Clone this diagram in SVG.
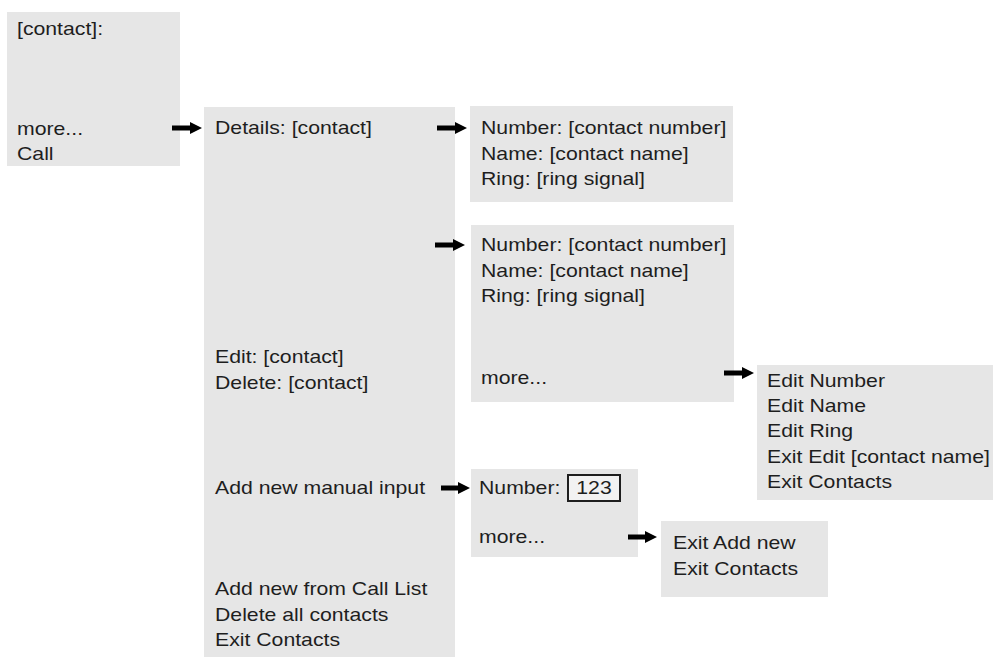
<svg xmlns="http://www.w3.org/2000/svg" width="993" height="657" viewBox="0 0 993 657">
<defs>
<style>
.box{fill:#e6e6e6;}
.t{font-family:"Liberation Sans",Arial,sans-serif;font-size:18px;fill:#1e1e1e;}
.c{stroke:#000;stroke-width:5;fill:none;marker-end:url(#ah);}
</style>
<marker id="ah" markerUnits="userSpaceOnUse" markerWidth="12" markerHeight="14" refX="2" refY="7" orient="auto">
<path d="M0,1 L12,7 L0,13 Z" fill="#000"/>
</marker>
</defs>
<rect width="993" height="657" fill="#fff"/>
<g id="n-contact">
<rect class="box" x="7" y="12" width="173" height="154"/>
<text class="t" transform="translate(17 35) scale(1.18 1)">[contact]:</text>
<text class="t" transform="translate(17 135) scale(1.18 1)">more...</text>
<text class="t" transform="translate(17 160) scale(1.18 1)">Call</text>
</g>
<g id="n-menu">
<rect class="box" x="204" y="107" width="251" height="550"/>
<text class="t" transform="translate(215 134) scale(1.18 1)">Details: [contact]</text>
<text class="t" transform="translate(215 363) scale(1.18 1)">Edit: [contact]</text>
<text class="t" transform="translate(215 389) scale(1.18 1)">Delete: [contact]</text>
<text class="t" transform="translate(215 494) scale(1.18 1)">Add new manual input</text>
<text class="t" transform="translate(215 595) scale(1.18 1)">Add new from Call List</text>
<text class="t" transform="translate(215 621) scale(1.18 1)">Delete all contacts</text>
<text class="t" transform="translate(215 646) scale(1.18 1)">Exit Contacts</text>
</g>
<g id="n-details">
<rect class="box" x="470" y="106" width="263" height="96"/>
<text class="t" transform="translate(481 134) scale(1.18 1)">Number: [contact number]</text>
<text class="t" transform="translate(481 160) scale(1.18 1)">Name: [contact name]</text>
<text class="t" transform="translate(481 185) scale(1.18 1)">Ring: [ring signal]</text>
</g>
<g id="n-edit">
<rect class="box" x="471" y="225" width="263" height="177"/>
<text class="t" transform="translate(481 251) scale(1.18 1)">Number: [contact number]</text>
<text class="t" transform="translate(481 277) scale(1.18 1)">Name: [contact name]</text>
<text class="t" transform="translate(481 302) scale(1.18 1)">Ring: [ring signal]</text>
<text class="t" transform="translate(481 384) scale(1.18 1)">more...</text>
</g>
<g id="n-editmore">
<rect class="box" x="757" y="365" width="236" height="135"/>
<text class="t" transform="translate(767 387) scale(1.18 1)">Edit Number</text>
<text class="t" transform="translate(767 412) scale(1.18 1)">Edit Name</text>
<text class="t" transform="translate(767 437) scale(1.18 1)">Edit Ring</text>
<text class="t" transform="translate(767 463) scale(1.18 1)">Exit Edit [contact name]</text>
<text class="t" transform="translate(767 488) scale(1.18 1)">Exit Contacts</text>
</g>
<g id="n-addnew">
<rect class="box" x="471" y="469" width="167" height="88"/>
<text class="t" transform="translate(479 494) scale(1.18 1)">Number:</text>
<rect x="568" y="475" width="52" height="26" fill="#f2f2f2" stroke="#1e1e1e" stroke-width="2"/>
<text class="t" text-anchor="middle" transform="translate(594 494) scale(1.18 1)">123</text>
<text class="t" transform="translate(479 543) scale(1.18 1)">more...</text>
</g>
<g id="n-addmore">
<rect class="box" x="661" y="521" width="167" height="76"/>
<text class="t" transform="translate(673 549) scale(1.18 1)">Exit Add new</text>
<text class="t" transform="translate(673 575) scale(1.18 1)">Exit Contacts</text>
</g>
<g id="connectors">
<line class="c" x1="172" y1="128" x2="192" y2="128"/>
<line class="c" x1="437" y1="128" x2="457" y2="128"/>
<line class="c" x1="435" y1="245" x2="455" y2="245"/>
<line class="c" x1="724" y1="373" x2="744" y2="373"/>
<line class="c" x1="441" y1="488" x2="460" y2="488"/>
<line class="c" x1="628" y1="537" x2="647" y2="537"/>
</g>
</svg>
